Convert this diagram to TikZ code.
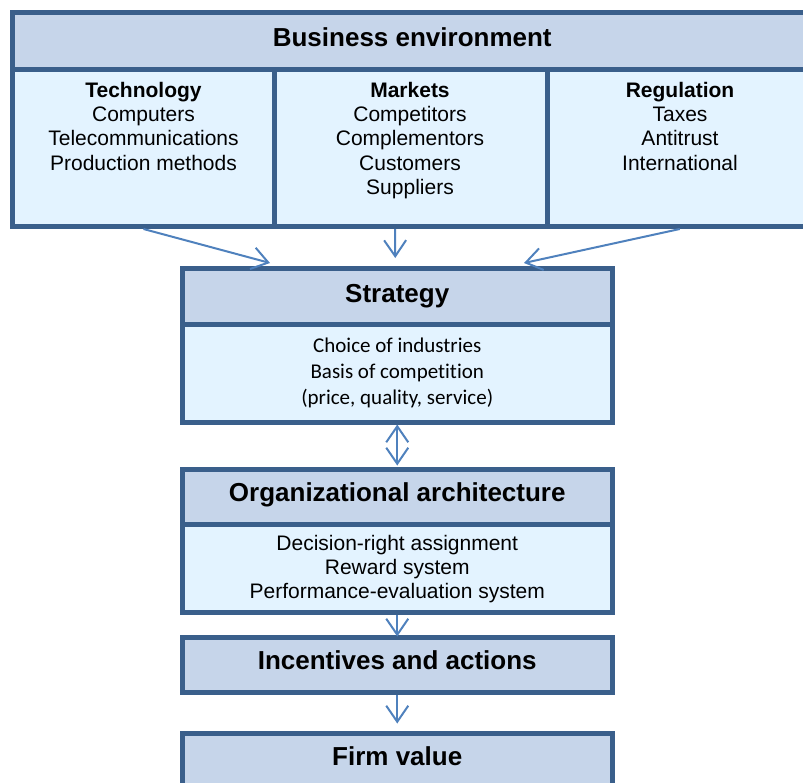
\documentclass[tikz,border=0pt]{standalone}
\usepackage{fontspec}
\setmainfont{Liberation Sans}
\newfontfamily\calibrifont[Ligatures=NoCommon]{Carlito}
\usetikzlibrary{arrows.meta,calc}
\definecolor{bord}{HTML}{3A5F8B}
\definecolor{headfill}{HTML}{C6D5EA}
\definecolor{bodyfill}{HTML}{E3F3FF}
\definecolor{arr}{HTML}{4F81BD}
\newcommand\tstrut{\rule{0pt}{18pt}}
\tikzset{
  boxbase/.style={draw=bord, line width=5pt, outer sep=0pt, inner sep=0pt},
  headbox/.style={boxbase, fill=headfill},
  bodybox/.style={boxbase, fill=bodyfill},
  headtxt/.style={inner sep=0pt, anchor=base, font=\fontsize{26}{30}\selectfont\bfseries},
  itemtxt/.style={inner sep=0pt, anchor=north, align=center, font=\fontsize{21}{24.3}\selectfont},
  strattxt/.style={inner sep=0pt, anchor=north, align=center, font=\fontsize{21}{25.7}\selectfont\calibrifont},
  orgtxt/.style={inner sep=0pt, anchor=north, align=center, font=\fontsize{21}{24}\selectfont},
  tipv/.tip={Straight Barb[length=16pt,width=22pt,line width=2pt]},
  link/.style={draw=arr, line width=2pt, -tipv},
  dlink/.style={draw=arr, line width=2pt, tipv-tipv}
}
\begin{document}
\begin{tikzpicture}[x=1pt,y=-1pt]
\clip (0,0) rectangle (803,782);
% business environment
\node[headbox, minimum width=799.5pt, minimum height=56.5pt] (bhead) at (412.25,40.75) {};
\node[bodybox, minimum width=262pt, minimum height=157pt] (tech) at (143.5,147.5) {};
\node[bodybox, minimum width=273pt, minimum height=157pt] (mkt) at (411,147.5) {};
\node[bodybox, minimum width=264.5pt, minimum height=157pt] (reg) at (679.75,147.5) {};
\node[headtxt] (btxt) at (412.25,46) {Business environment};
\node[itemtxt] (techtxt) at (143.5,79) {\tstrut\textbf{Technology}\\Computers\\Telecommunications\\Production methods};
\node[itemtxt] (mkttxt) at (410,79) {\tstrut\textbf{Markets}\\Competitors\\Complementors\\Customers\\Suppliers};
\node[itemtxt] (regtxt) at (680,79) {\tstrut\textbf{Regulation}\\Taxes\\Antitrust\\International};
% strategy
\node[headbox, minimum width=430.5pt, minimum height=56pt] (shead) at (397.25,296) {};
\node[bodybox, minimum width=430.5pt, minimum height=98pt] (sbody) at (397.25,373) {};
\node[headtxt] (stxt) at (397.25,302.5) {Strategy};
\node[strattxt] (sbtxt) at (397.25,334.7) {\tstrut Choice of industries\\Basis of competition\\(price, quality, service)};
% organizational architecture
\node[headbox, minimum width=430.5pt, minimum height=54.5pt] (ohead) at (397.25,496.75) {};
\node[bodybox, minimum width=430.5pt, minimum height=88.5pt] (obody) at (397.25,568.25) {};
\node[headtxt] (otxt) at (397.25,501.7) {Organizational architecture};
\node[orgtxt] (obtxt) at (397.25,532.7) {\tstrut Decision-right assignment\\Reward system\\Performance-evaluation system};
% incentives
\node[headbox, minimum width=430.5pt, minimum height=55pt] (inc) at (397.25,665) {};
\node[headtxt] (itxt) at (397.25,669.3) {Incentives and actions};
% firm value
\node[headbox, minimum width=430.5pt, minimum height=60pt] (firm) at (397.25,763.5) {};
\node[headtxt] (ftxt) at (397.25,765) {Firm value};
% connectors
\draw[link] ($(tech.south)+(0,3)$) -- ($(shead.north west)+(88,-5)$);
\draw[link] ($(mkt.south)+(-16,3)$) -- ($(shead.north)+(-2,-10)$);
\draw[link] ($(reg.south)+(0,3)$) -- ($(shead.north east)+(-88.5,-5)$);
\draw[dlink] ($(sbody.south)+(0,2.5)$) -- ($(ohead.north)+(0,-4)$);
\draw[link] ($(obody.south)+(0,2.5)$) -- ($(inc.north)+(0,-1)$);
\draw[link] ($(inc.south)+(0,2.5)$) -- ($(firm.north)+(0,-10)$);
\end{tikzpicture}
\end{document}
